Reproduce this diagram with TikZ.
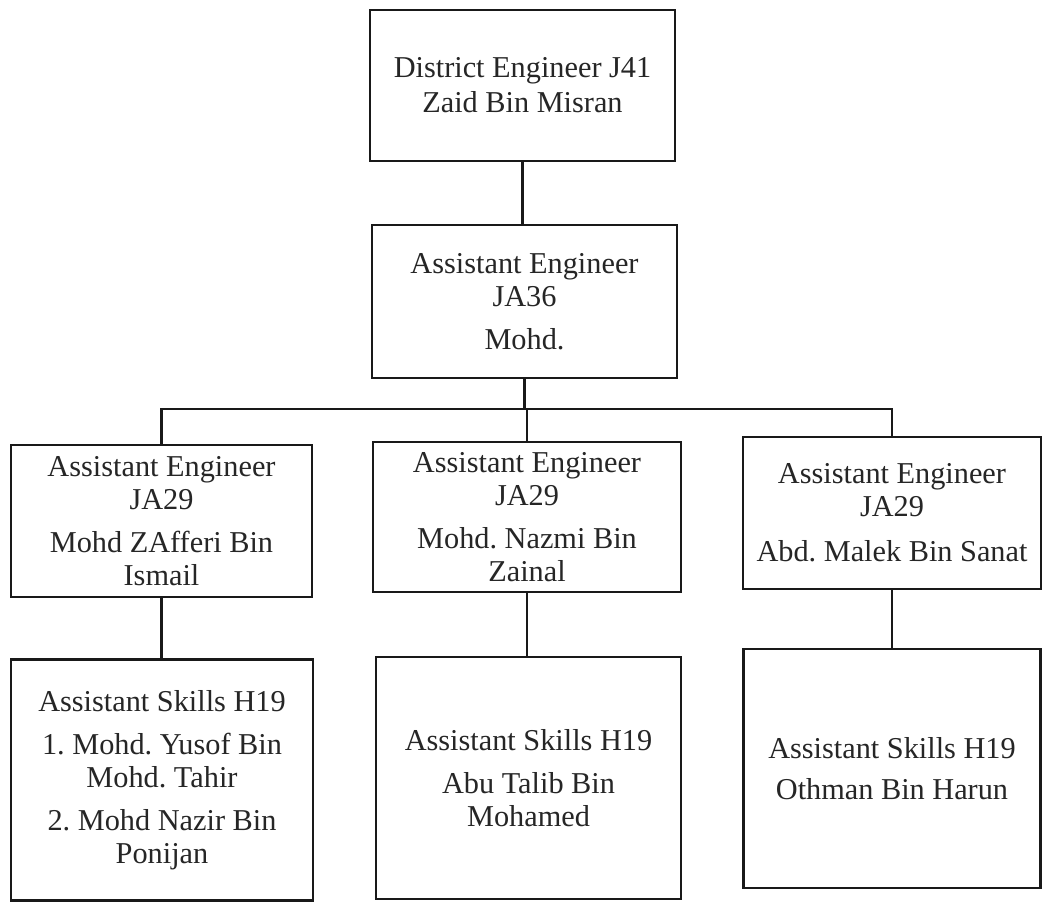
\documentclass[tikz,border=0pt]{standalone}
\usepackage{fontspec}
\setmainfont{Liberation Serif}
\frenchspacing
\tikzset{
  box/.style={draw=black!90, line width=1.1pt, inner sep=0pt, align=center,
    text=black!85, font=\fontsize{15.15}{16.5}\selectfont\frenchspacing},
  link/.style={draw=black!90, line width=1.1pt}
}
\begin{document}
\begin{tikzpicture}[x=0.5pt,y=-0.5pt]
\useasboundingbox (0,0) rectangle (1043,902);
\fill[white] (0,0) rectangle (1043,902);
\node[box, minimum width=152.5pt, minimum height=75.5pt] (top) at (522.5,85.5)
  {District Engineer J41\\[1pt]Zaid Bin Misran};
\node[box, minimum width=152.5pt, minimum height=76.5pt] (ae36) at (524.5,301.5)
  {Assistant Engineer\\JA36\\[5pt]Mohd.};
\node[box, minimum width=150.5pt, minimum height=76pt] (l1) at (161.5,521)
  {Assistant Engineer\\JA29\\[5pt]Mohd ZAfferi Bin\\Ismail};
\node[box, minimum width=154pt, minimum height=75pt] (m1) at (527,517)
  {Assistant Engineer\\JA29\\[5pt]Mohd. Nazmi Bin\\Zainal};
\node[box, minimum width=149pt, minimum height=76pt] (r1) at (892,513)
  {Assistant Engineer\\JA29\\[6pt]Abd. Malek Bin Sanat};
\node[box, minimum width=151pt, minimum height=120.5pt] (l2) at (162,780)
  {Assistant Skills H19\\[5pt]1. Mohd. Yusof Bin\\Mohd. Tahir\\[5pt]2. Mohd Nazir Bin\\Ponijan};
\node[box, minimum width=152.5pt, minimum height=121pt] (m2) at (528.5,778)
  {Assistant Skills H19\\[5pt]Abu Talib Bin\\Mohamed};
\node[box, minimum width=148.5pt, minimum height=119.5pt] (r2) at (892,768.5)
  {Assistant Skills H19\\[4pt]Othman Bin Harun};
\coordinate (busy) at (0,409);
\draw[link] (top.south) -- (top.south |- ae36.north);
\draw[link] (ae36.south) -- (ae36.south |- busy) coordinate (bus);
\draw[link] (l1.north) |- (bus) -| (r1.north);
\draw[link] (m1.north) -- (m1.north |- busy);
\draw[link] (l1.south) -- (l1.south |- l2.north);
\draw[link] (m1.south) -- (m1.south |- m2.north);
\draw[link] (r1.south) -- (r1.south |- r2.north);
\end{tikzpicture}
\end{document}
